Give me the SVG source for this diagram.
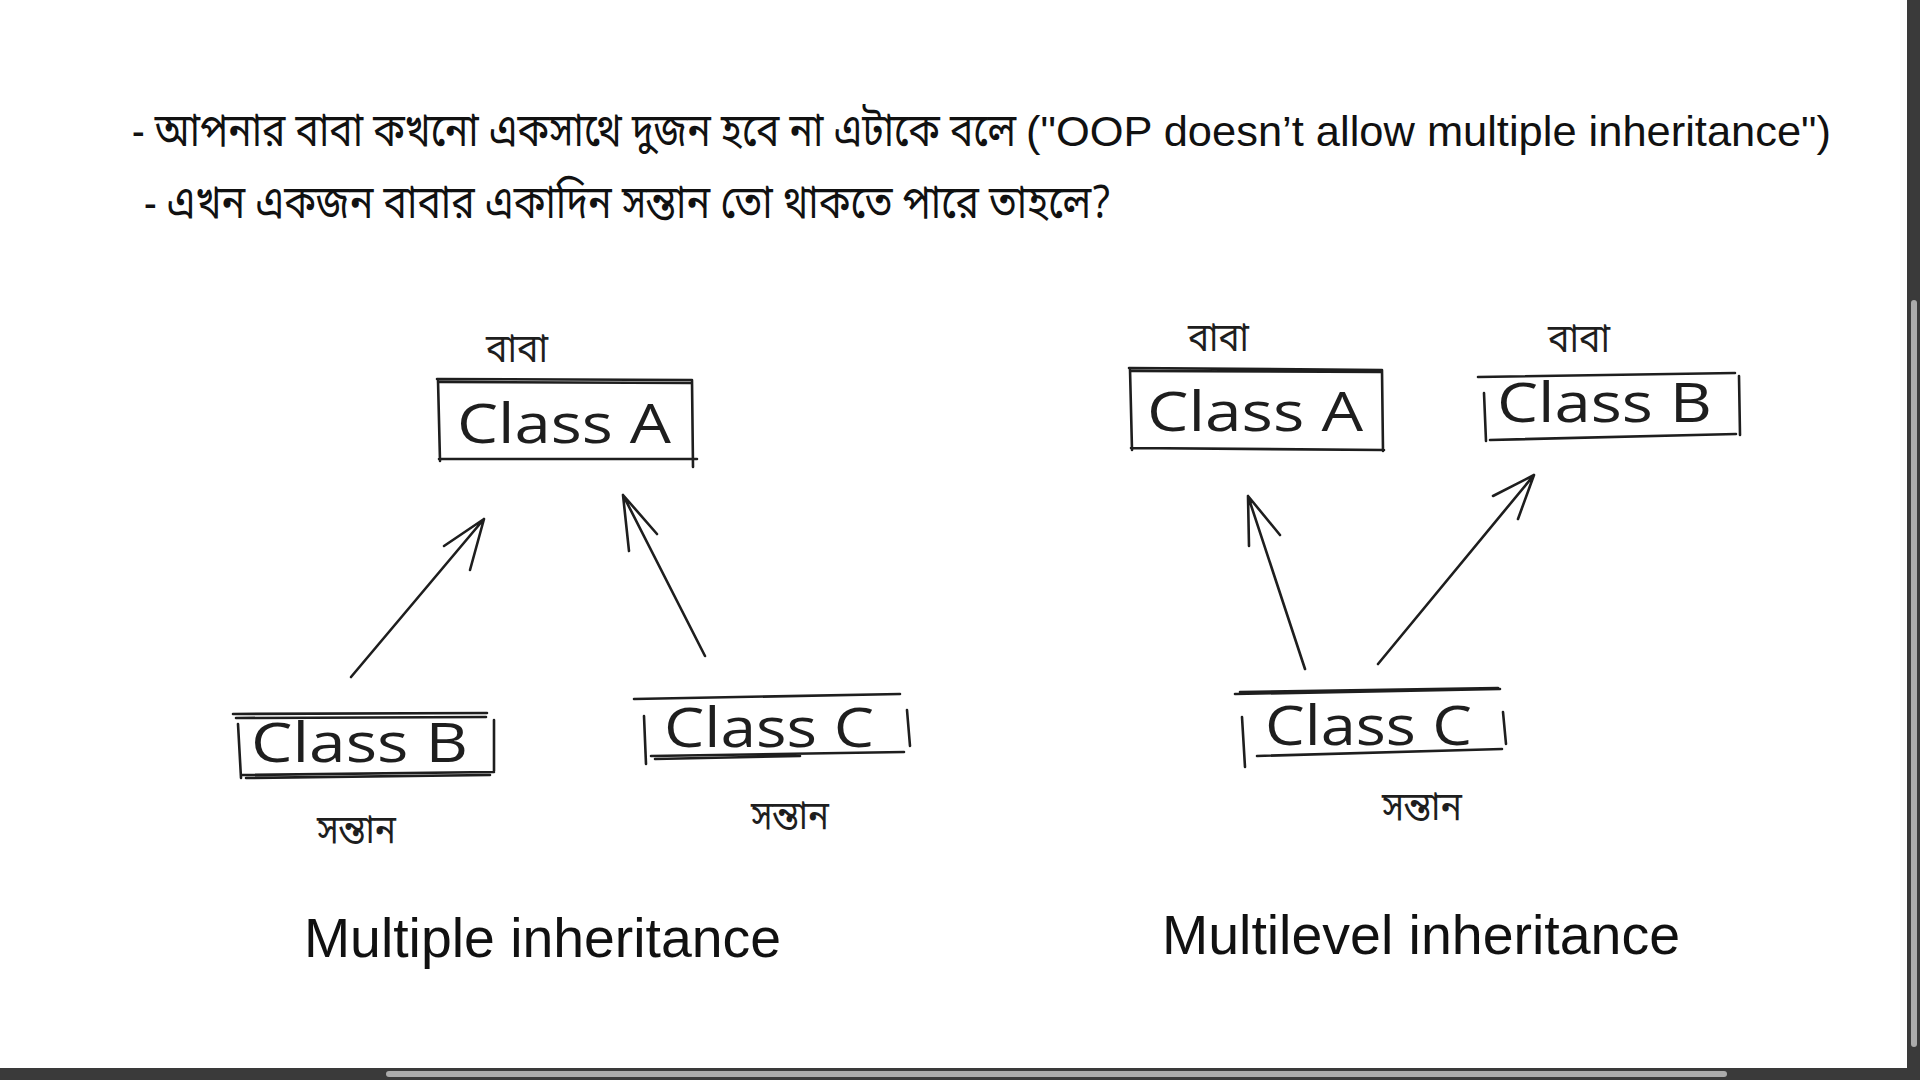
<svg xmlns="http://www.w3.org/2000/svg" width="1920" height="1080" viewBox="0 0 1920 1080">
<style>
.bn{font-family:"Noto Sans Bengali","Noto Serif Bengali","Lohit Bengali","FreeSans","Noto Sans",sans-serif;fill:#111}
.en{font-family:"Liberation Sans",Arial,sans-serif;fill:#111}
.cls{font-family:"Open Sans","Noto Sans",sans-serif;font-size:54px;fill:#1e1e1e}
.sk{fill:none;stroke:#1e1e1e;stroke-width:2.6;stroke-linecap:round;stroke-linejoin:round}
.lbl{font-family:"Noto Sans Bengali","Noto Serif Bengali","Lohit Bengali","FreeSans","Noto Sans",sans-serif;font-size:40px;fill:#1e1e1e}
.cap{font-family:"Liberation Sans",Arial,sans-serif;font-size:55px;fill:#111}
</style>
<rect x="0" y="0" width="1920" height="1080" fill="#ffffff"/>

<g id="header">
<text y="146"><tspan class="bn" x="132" font-size="46" textLength="884" lengthAdjust="spacingAndGlyphs">- আপনার বাবা কখনো একসাথে দুজন হবে না এটাকে বলে</tspan><tspan class="en" x="1026" font-size="43" textLength="805" lengthAdjust="spacingAndGlyphs">("OOP doesn’t allow multiple inheritance")</tspan></text>
<text class="bn" x="144" y="218" font-size="46" textLength="967" lengthAdjust="spacingAndGlyphs">- এখন একজন বাবার একাদিন সন্তান তো থাকতে পারে তাহলে?</text>
</g>

<g id="node-left-classA">
<path class="sk" d="M437,379 L692,380 M440,382 L690,383 M438,380 L440,461 M692,380 L693,467 M439,459 L697,459"/>
<text class="cls" x="457" y="443" textLength="214" lengthAdjust="spacingAndGlyphs">Class A</text>
<text class="lbl" x="486" y="362" textLength="62" lengthAdjust="spacingAndGlyphs">বাবা</text>
</g>

<g id="node-left-classB">
<path class="sk" d="M233,714 L487,713 M236,718 L486,717 M238,724 L241,778 M494,720 L494,771 M241,775 L494,772 M246,778 L490,775"/>
<text class="cls" x="251" y="762" textLength="217" lengthAdjust="spacingAndGlyphs">Class B</text>
<text class="lbl" x="317" y="843" textLength="79" lengthAdjust="spacingAndGlyphs">সন্তান</text>
</g>

<g id="node-left-classC">
<path class="sk" d="M634,699 L900,694 M644,716 L646,764 M907,710 L910,746 M651,756 L904,752 M655,759 L800,756"/>
<text class="cls" x="664" y="747" textLength="210" lengthAdjust="spacingAndGlyphs">Class C</text>
<text class="lbl" x="751" y="829" textLength="78" lengthAdjust="spacingAndGlyphs">সন্তান</text>
</g>

<g id="node-right-classA">
<path class="sk" d="M1129,368 L1382,370 M1132,371 L1380,372 M1130,369 L1132,450 M1382,370 L1383,451 M1131,448 L1384,450"/>
<text class="cls" x="1147" y="431" textLength="216" lengthAdjust="spacingAndGlyphs">Class A</text>
<text class="lbl" x="1188" y="351" textLength="61" lengthAdjust="spacingAndGlyphs">বাবা</text>
</g>

<g id="node-right-classB">
<path class="sk" d="M1478,377 L1735,373 M1484,393 L1486,441 M1739,376 L1740,435 M1490,440 L1736,434"/>
<text class="cls" x="1497" y="422" textLength="215" lengthAdjust="spacingAndGlyphs">Class B</text>
<text class="lbl" x="1548" y="352" textLength="62" lengthAdjust="spacingAndGlyphs">বাবা</text>
</g>

<g id="node-right-classC">
<path class="sk" d="M1235,694 L1500,689 M1240,692 L1498,688 M1242,717 L1245,767 M1503,712 L1506,744 M1257,756 L1502,749"/>
<text class="cls" x="1265" y="745" textLength="207" lengthAdjust="spacingAndGlyphs">Class C</text>
<text class="lbl" x="1382" y="820" textLength="80" lengthAdjust="spacingAndGlyphs">সন্তান</text>
</g>

<g id="connectors">
<path class="sk" d="M351,677 L484,519 M484,519 L444,546 M484,519 L470,570"/>
<path class="sk" d="M705,656 L623,495 M623,495 L629,551 M623,495 L657,534"/>
<path class="sk" d="M1305,669 L1248,496 M1248,496 L1249,546 M1248,496 L1280,535"/>
<path class="sk" d="M1378,664 L1534,475 M1534,475 L1493,496 M1534,475 L1518,519"/>
</g>

<g id="captions">
<text class="cap" x="304" y="957" textLength="477" lengthAdjust="spacingAndGlyphs">Multiple inheritance</text>
<text class="cap" x="1162" y="954" textLength="518" lengthAdjust="spacingAndGlyphs">Multilevel inheritance</text>
</g>

<g id="scrollbars">
<rect x="1907" y="0" width="13" height="1080" fill="#3a3a3a"/>
<rect x="1911" y="300" width="6" height="747" rx="3" fill="#ababab"/>
<rect x="0" y="1068" width="1920" height="12" fill="#3a3a3a"/>
<rect x="386" y="1071" width="1341" height="6" rx="3" fill="#ababab"/>
</g>
</svg>
